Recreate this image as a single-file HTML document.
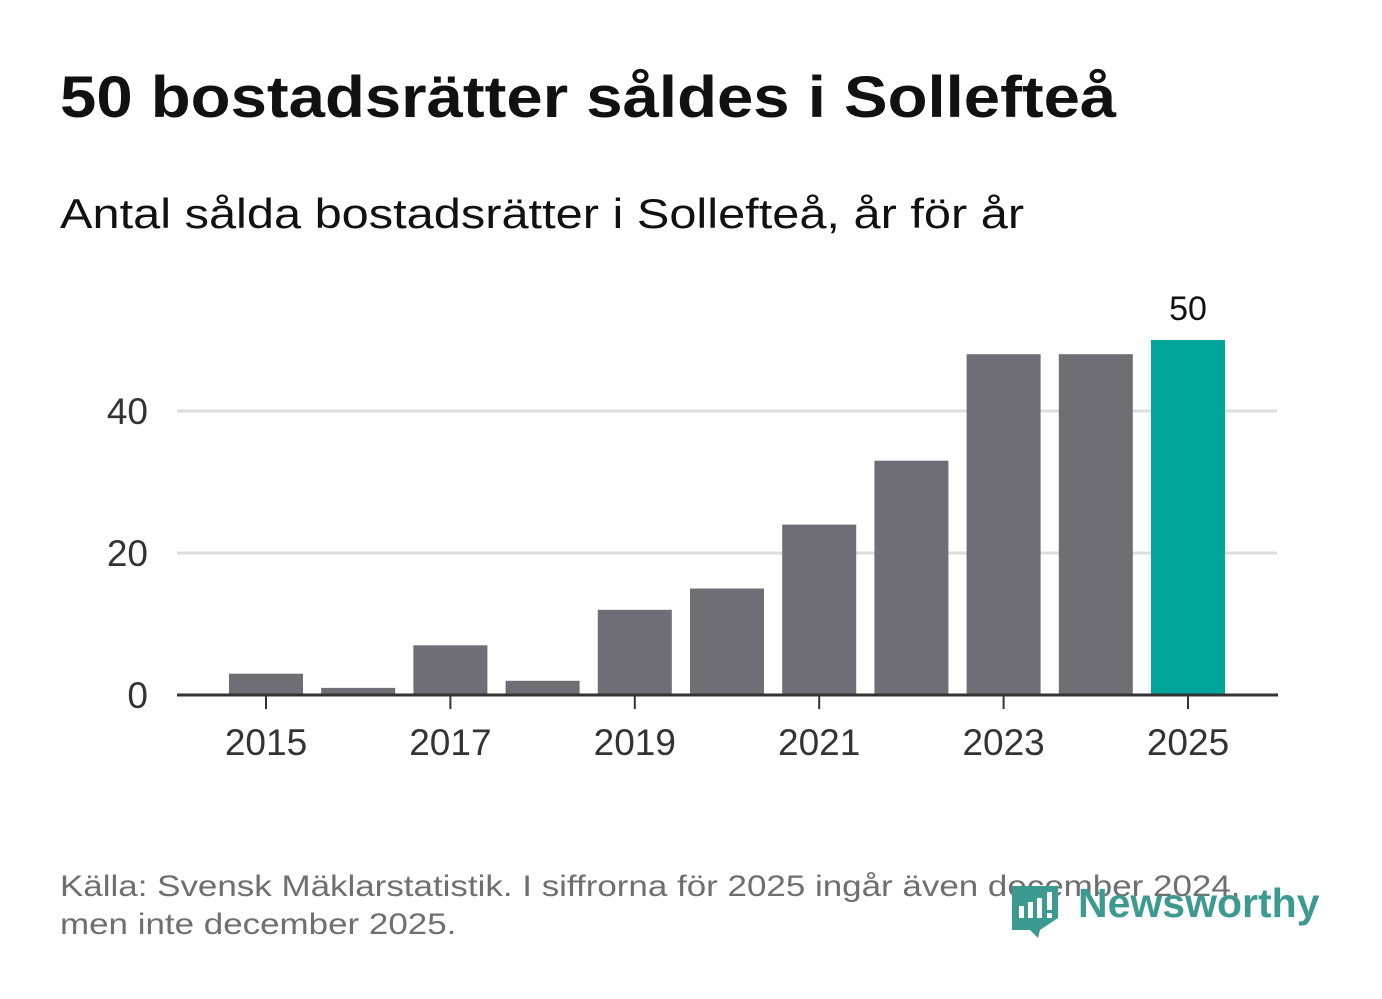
<!DOCTYPE html>
<html><head><meta charset="utf-8"><style>
body{margin:0;width:1382px;height:999px;background:#fff;font-family:"Liberation Sans",sans-serif;overflow:hidden;position:relative}
.t{position:absolute;white-space:nowrap;transform-origin:0 0}
</style></head><body>
<div class="t" style="left:60px;top:64px;font-size:58px;font-weight:bold;color:#111;transform:scaleX(1.126)">50 bostadsrätter såldes i Sollefteå</div>
<div class="t" style="left:60px;top:190px;font-size:42px;color:#111;transform:scaleX(1.16)">Antal sålda bostadsrätter i Sollefteå, år för år</div>
<svg id="chart" width="1382" height="999" style="position:absolute;left:0;top:0"></svg>
<div class="t" style="left:60px;top:868px;font-size:30px;line-height:38px;color:#6e6e73;transform:scaleX(1.165)">Källa: Svensk Mäklarstatistik. I siffrorna för 2025 ingår även december 2024,<br>men inte december 2025.</div>
<div style="position:absolute;left:1010px;top:880px;width:310px;height:60px">
<svg width="50" height="60" style="position:absolute;left:0;top:0"><path d="M2 6 H48 V38 L30 50 L28 58 L20 50 H2 Z" fill="#3d9a90"/><rect x="9" y="26" width="5" height="12" fill="#fff"/><rect x="18" y="22" width="5" height="16" fill="#fff"/><rect x="27" y="18" width="5" height="20" fill="#fff"/><rect x="37" y="12" width="5" height="18" fill="#fff"/><rect x="37" y="33" width="5" height="5" fill="#fff"/></svg>
<div class="t" style="left:68px;top:0px;font-size:41px;font-weight:bold;color:#3d9a90">Newsworthy</div>
</div>
<script>
const years=[2015,2016,2017,2018,2019,2020,2021,2022,2023,2024,2025];
const values=[3,1,7,2,12,15,24,33,48,48,50];
const yTicks=[0,20,40];
const xTickYears=[2015,2017,2019,2021,2023,2025];
const svg=document.getElementById('chart');const NS='http://www.w3.org/2000/svg';
const y0=695,pxPerUnit=7.1;const yS=v=>y0-v*pxPerUnit;
const xS=yr=>266+(yr-2015)*92.2;const bw=74;
function mk(t,a){const e=document.createElementNS(NS,t);for(const k in a)e.setAttribute(k,a[k]);svg.appendChild(e);return e;}
yTicks.forEach(v=>{if(v>0){const g=mk('line',{x1:177,x2:1277,y1:yS(v),y2:yS(v),stroke:'#dddddd','stroke-width':3});

}
const t=mk('text',{x:148,y:yS(v)+13,'text-anchor':'end','font-size':37,fill:'#333','font-family':'Liberation Sans, sans-serif'});t.textContent=v;

});
years.forEach((yr,i)=>{const last=i===years.length-1;const r=mk('rect',{x:xS(yr)-bw/2,y:yS(values[i]),width:bw,height:y0-yS(values[i]),fill:last?'#00a59a':'#6f6e74'});


if(last){const l=mk('text',{x:xS(yr),y:yS(values[i])-20,'text-anchor':'middle','font-size':34,fill:'#111','font-family':'Liberation Sans, sans-serif'});l.textContent=values[i];

}});
const ax=mk('line',{x1:177,x2:1278,y1:y0,y2:y0,stroke:'#333','stroke-width':3});


xTickYears.forEach(yr=>{const tk=mk('line',{x1:xS(yr),x2:xS(yr),y1:y0,y2:y0+14,stroke:'#333','stroke-width':2});


const t=mk('text',{x:xS(yr),y:755,'text-anchor':'middle','font-size':37,fill:'#333','font-family':'Liberation Sans, sans-serif'});t.textContent=yr;

});
</script>
</body></html>
